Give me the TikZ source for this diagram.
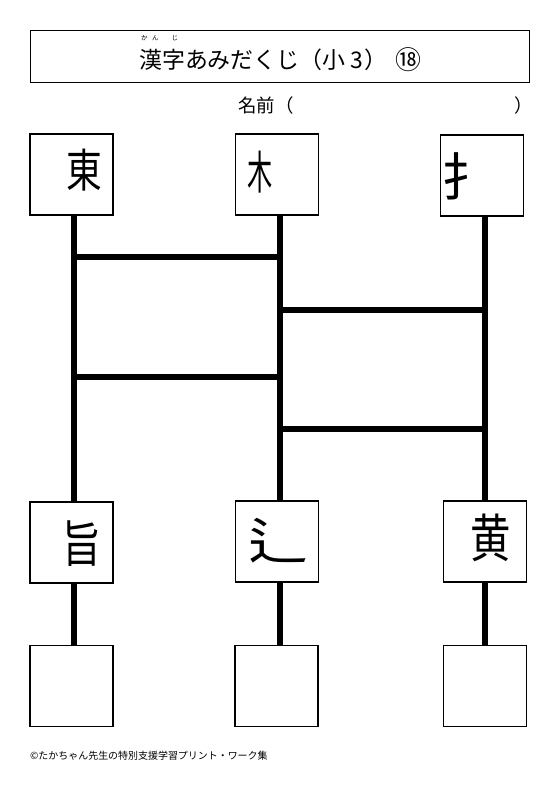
\documentclass[tikz,border=0pt]{standalone}
\usepackage{fontspec}
\setmainfont{Noto Sans CJK JP}
\newfontfamily\kanjifont[FakeStretch=0.78]{Noto Sans CJK JP}
\newfontfamily\narrowfont[FakeStretch=0.55]{Noto Sans CJK JP}
\newfontfamily\widefont[FakeStretch=1.2]{Noto Sans CJK JP}
\definecolor{lnblack}{HTML}{000000}

\begin{document}
\begin{tikzpicture}[x=1bp,y=-1bp,
  kbox/.style={draw=lnblack,line width=1.2bp,minimum width=83bp,minimum height=81bp,inner sep=0pt},
  kchar/.style={font=\kanjifont\fontsize{46}{46}\selectfont,inner sep=0pt},
  leg/.style={lnblack,line width=5.5bp},
  rung/.style={lnblack,line width=5.5bp}]

  \useasboundingbox (0,0) rectangle (555,787);

  % =====================================================================
  % 1. TITLE & NAME
  % =====================================================================

  \draw[lnblack,line width=1bp] (30.5,30.5) rectangle (529,82);
  \node[anchor=west,inner sep=0pt,font=\fontsize{6.5}{6.5}\selectfont] (ruby) at (141,38)
        {か\hspace{4.5bp}ん\hspace{13bp}じ};
  \node[anchor=west,inner sep=0pt,font=\fontsize{23}{23}\selectfont] (title) at (139,60)
        {漢字あみだくじ（小\hspace{5bp}3\hspace{1bp}）};
  \node[inner sep=0pt,font=\fontsize{26}{26}\selectfont] (num) at (408,60) {⑱};

  \node[anchor=west,inner sep=0pt,font=\fontsize{18.5}{18.5}\selectfont] (name) at (238,105) {名前（};
  \node[anchor=west,inner sep=0pt,font=\fontsize{18.5}{18.5}\selectfont] (nameend) at (514,105) {）};

  % =====================================================================
  % 2. BOXES
  % =====================================================================

  % top row
  \node[kbox] (t1) at (71.5,174.5) {};
  \node[kbox] (t2) at (277,174.5) {};
  \node[kbox] (t3) at (482,175.5) {};
  \node[kchar] (c1) at (84,170) {東};
  \node[kchar,font=\narrowfont\fontsize{46}{46}\selectfont] (c2) at (260,172) {木};
  \node[kchar,font=\fontsize{52}{52}\selectfont] (c3) at (467,176) {扌};

  % middle row
  \node[kbox] (m1) at (71.5,542.5) {};
  \node[kbox] (m2) at (277,541.5) {};
  \node[kbox] (m3) at (485,541.5) {};
  \node[kchar,font=\kanjifont\fontsize{50}{50}\selectfont] (c4) at (82,544) {旨};
  \node[kchar,font=\widefont\fontsize{50}{50}\selectfont] (c5) at (278,541) {辶};
  \node[kchar,font=\kanjifont\fontsize{52}{52}\selectfont] (c6) at (491,538) {黄};

  % bottom row (answers)
  \node[kbox] (b1) at (71.5,686) {};
  \node[kbox] (b2) at (276.5,686) {};
  \node[kbox] (b3) at (485,686) {};

  % =====================================================================
  % 3. LADDER
  % =====================================================================

  \coordinate (l1) at (74,0);
  \coordinate (l2) at (280,0);
  \coordinate (l3) at (485,0);

  \draw[leg] (t1.south -| l1) -- (m1.north -| l1);
  \draw[leg] (t2.south -| l2) -- (m2.north -| l2);
  \draw[leg] (t3.south -| l3) -- (m3.north -| l3);

  \draw[leg] (m1.south -| l1) -- (b1.north -| l1);
  \draw[leg] (m2.south -| l2) -- (b2.north -| l2);
  \draw[leg] (m3.south -| l3) -- (b3.north -| l3);

  % rungs
  \draw[rung] (l1 |- 0,257) -- (l2 |- 0,257);
  \draw[rung] (l2 |- 0,310) -- (l3 |- 0,310);
  \draw[rung] (l1 |- 0,377) -- (l2 |- 0,377);
  \draw[rung] (l2 |- 0,429) -- (l3 |- 0,429);

  % =====================================================================
  % 4. FOOTER
  % =====================================================================

  \node[anchor=west,inner sep=0pt,font=\fontsize{10}{10}\selectfont] (footer) at (30,756)
        {©たかちゃん先生の特別支援学習プリント・ワーク集};

\end{tikzpicture}
\end{document}
